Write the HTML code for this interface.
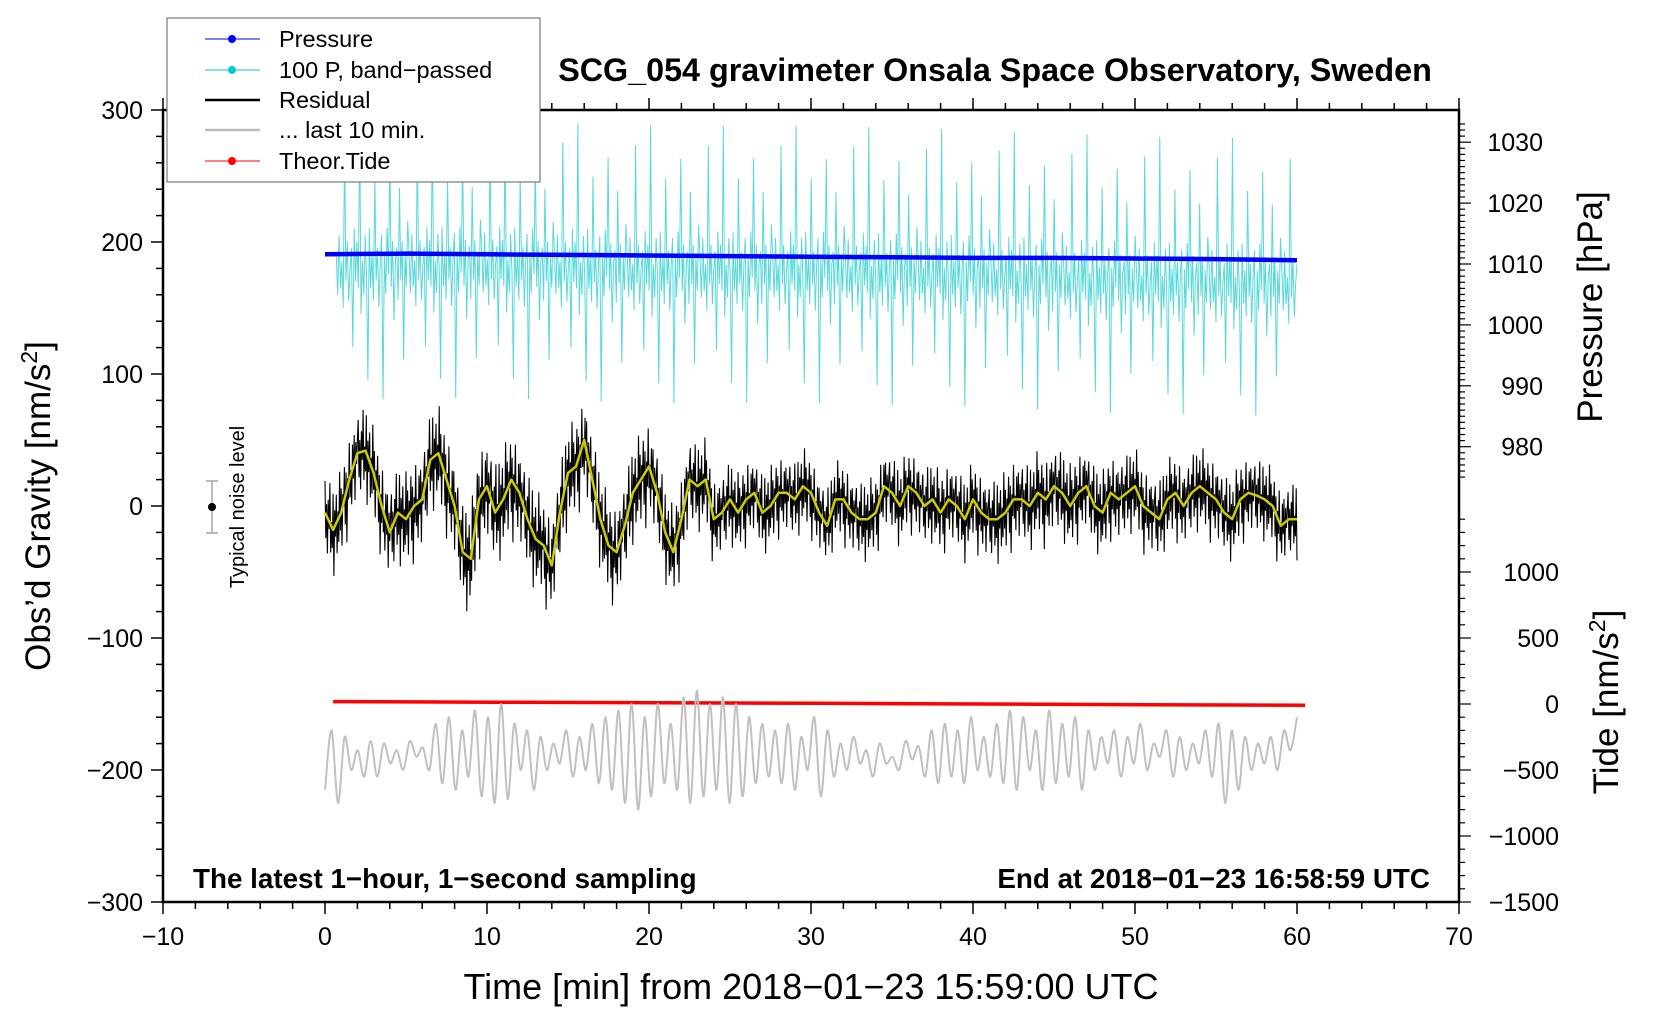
<!DOCTYPE html>
<html><head><meta charset="utf-8"><style>
html,body{margin:0;padding:0;background:#fff;}
svg{display:block;font-family:"Liberation Sans",sans-serif;}
</style></head><body>
<svg id="chart" width="1660" height="1020" viewBox="0 0 1660 1020" xmlns="http://www.w3.org/2000/svg">
<rect width="1660" height="1020" fill="#fff"/>
<g id="plot"></g>
<g id="axes"></g>
<text x="995" y="81" font-size="32.3" font-weight="bold" text-anchor="middle">SCG_054 gravimeter Onsala Space Observatory, Sweden</text>
<text x="811" y="999" font-size="36" text-anchor="middle">Time [min] from 2018−01−23 15:59:00 UTC</text>
<text transform="translate(50,506) rotate(-90)" font-size="35" text-anchor="middle">Obs’d Gravity [nm/s<tspan dy="-13" font-size="23">2</tspan><tspan dy="13">]</tspan></text>
<text transform="translate(1602,307) rotate(-90)" font-size="35" text-anchor="middle">Pressure [hPa]</text>
<text transform="translate(1618,702) rotate(-90)" font-size="35" text-anchor="middle">Tide [nm/s<tspan dy="-13" font-size="23">2</tspan><tspan dy="13">]</tspan></text>
<text x="193" y="888" font-size="27.8" font-weight="bold">The latest 1−hour, 1−second sampling</text>
<text x="1430" y="888" font-size="27.8" font-weight="bold" text-anchor="end">End at 2018−01−23 16:58:59 UTC</text>
<g>
<line x1="212" y1="481" x2="212" y2="533" stroke="#bbb" stroke-width="2"/>
<line x1="206" y1="481" x2="218" y2="481" stroke="#bbb" stroke-width="2"/>
<line x1="206" y1="533" x2="218" y2="533" stroke="#bbb" stroke-width="2"/>
<circle cx="212" cy="507" r="4" fill="#000"/>
<text transform="translate(244,507) rotate(-90)" font-size="20" text-anchor="middle">Typical noise level</text>
</g>
<g>
<rect x="167" y="18" width="373" height="164" fill="#fff" stroke="#777" stroke-width="1.2"/>
<g><line x1="205" y1="39" x2="260" y2="39" stroke="#00f"/><circle cx="232" cy="39" r="4" fill="#00f"/><text x="279" y="47" font-size="23.5">Pressure</text></g>
<g><line x1="205" y1="70" x2="260" y2="70" stroke="#0cc"/><circle cx="232" cy="70" r="4" fill="#0cc"/><text x="279" y="78" font-size="23.5">100 P, band−passed</text></g>
<g><line x1="205" y1="100" x2="260" y2="100" stroke="#000" stroke-width="2.5"/><text x="279" y="108" font-size="23.5">Residual</text></g>
<g><line x1="205" y1="130" x2="260" y2="130" stroke="#bbb" stroke-width="2.5"/><text x="279" y="138" font-size="23.5">... last 10 min.</text></g>
<g><line x1="205" y1="161" x2="260" y2="161" stroke="#f00"/><circle cx="232" cy="161" r="4" fill="#f00"/><text x="279" y="169" font-size="23.5">Theor.Tide</text></g>
</g>
</svg>
<script>
// ---- data ----
var xTicks = [-10,0,10,20,30,40,50,60,70];
var yTicks = [300,200,100,0,-100,-200,-300];
var pTicks = [1030,1020,1010,1000,990,980];
var tideTicks = [1000,500,0,-500,-1000,-1500];
var smoothResidual = [-5,-18,-5,20,40,42,25,0,-20,-5,-10,0,5,35,40,20,0,-35,-40,5,15,-5,5,20,10,-10,-25,-30,-45,-5,25,30,50,20,-10,-30,-35,-15,10,20,30,10,-20,-35,-10,20,15,20,-10,-5,5,-5,5,10,-5,0,10,10,5,15,10,-5,-15,5,5,-5,-10,-10,-5,15,10,0,15,10,0,5,-5,5,0,-10,5,-5,-10,-10,-5,5,5,0,10,5,15,10,0,10,15,0,-5,10,5,10,15,0,-5,-10,5,10,0,10,15,10,5,-5,-10,5,10,8,5,0,-15,-10,-10];
var residualDev = [0.8,-0.6,0.3,-0.9,0.5,-0.2,1,-0.7,0.1,-0.5,0.9,-1.2,0.4,-0.3,0.7,-0.8,0.2,-0.6,1.1,-0.4,0.6,-0.9,0.3,-0.1,0.8,-0.7,0.5,-1.3,0.2,-0.4,0.9,-0.5,0.1,-0.8,0.6,-0.3,0.7,-0.95,0.4,-0.2,0.35];
var noiseAmp = [30,33,36,33,33,28,27,27,28,30,28,28,26];
var cyanCenter = [180,182,178,178,175,170,168];
var cyanDev = [10,-20,25,-15,5,-30,95,-10,20,-25,0,15,-60,30,-10,20,-15,110,-35,5,-20,25,-5,-85,30,-15,10,-25,70,-10,15,-30,5,25,-100,10,-20,30,-5,85,-15,20,-40,5,15,-25,60,-10,20,-70,10,-15,35];
var pressure = [1011.6,1011.7,1011.6,1011.5,1011.4,1011.3,1011.2,1011.1,1011.0,1011.0,1010.9,1010.8,1010.6];
var tide = [18,14,10,5,0,-5,-9];
var lastTen = [-215,-170,-225,-175,-200,-185,-205,-178,-205,-180,-195,-185,-200,-178,-190,-183,-200,-165,-210,-160,-215,-170,-205,-155,-220,-160,-225,-150,-222,-165,-200,-170,-215,-175,-200,-180,-195,-170,-205,-175,-200,-165,-210,-160,-215,-155,-225,-150,-230,-160,-220,-150,-210,-165,-215,-145,-225,-140,-220,-150,-215,-145,-225,-150,-220,-160,-210,-165,-205,-170,-210,-165,-215,-175,-200,-160,-220,-170,-205,-180,-200,-175,-195,-185,-205,-180,-195,-190,-200,-178,-192,-182,-205,-170,-210,-165,-205,-170,-210,-160,-200,-175,-205,-165,-210,-155,-215,-160,-200,-170,-215,-155,-210,-165,-205,-160,-215,-170,-200,-175,-195,-170,-205,-175,-195,-165,-200,-180,-190,-170,-205,-175,-200,-180,-195,-170,-205,-165,-225,-170,-215,-175,-200,-180,-195,-175,-200,-170,-185,-160];

(function(){
var L=163,R=1459,T=110,B=902;
function X(t){return L + (t+10)*(R-L)/80;}
function Y(v){return 506 - v*1.32;}
function P(p){return 264 - (p-1010)*6.09;}
function TD(v){return 704 - v*0.132;}
var NS='http://www.w3.org/2000/svg';
var plot=document.getElementById('plot'), axes=document.getElementById('axes');
function mk(tag,attrs,parent){var e=document.createElementNS(NS,tag);for(var k in attrs)e.setAttribute(k,attrs[k]);parent.appendChild(e);return e;}
function interp(arr,t,t0,t1){var f=(t-t0)/(t1-t0)*(arr.length-1);var i=Math.max(0,Math.min(arr.length-2,Math.floor(f)));var r=f-i;return arr[i]*(1-r)+arr[i+1]*r;}
var d='',i,t,v;
for(i=0;i<=700;i++){t=0.7+i*(59.3/700);v=interp(cyanCenter,t,0,60)+cyanDev[i%cyanDev.length];d+=(i?'L':'M')+X(t).toFixed(1)+' '+Y(v).toFixed(1);}
var cy=mk('path',{d:d,fill:'none',stroke:'#22cccc','stroke-width':1,'stroke-opacity':0.75},plot);


d='';
pressure.forEach(function(p,k){d+=(k?'L':'M')+X(k*5).toFixed(1)+' '+P(p).toFixed(1);});
var pl=mk('path',{d:d,fill:'none',stroke:'#0000ff','stroke-width':4.5},plot);


d='';
for(i=0;i<=1200;i++){t=i*0.05;v=interp(smoothResidual,t,0,60)+residualDev[i%residualDev.length]*interp(noiseAmp,t,0,60);d+=(i?'L':'M')+X(t).toFixed(1)+' '+Y(v).toFixed(1);}
var rl=mk('path',{d:d,fill:'none',stroke:'#000','stroke-width':1.1},plot);


d='';
smoothResidual.forEach(function(val,k){d+=(k?'L':'M')+X(k*0.5).toFixed(1)+' '+Y(val).toFixed(1);});
var yl=mk('path',{d:d,fill:'none',stroke:'#cccc00','stroke-width':2.5,'stroke-linejoin':'round'},plot);


d='';
tide.forEach(function(val,k){d+=(k?'L':'M')+X(0.5+k*10).toFixed(1)+' '+TD(val).toFixed(1);});
var tl=mk('path',{d:d,fill:'none',stroke:'#ff0000','stroke-width':3.5},plot);


var pts=lastTen.map(function(val,k){return [X(k*60/(lastTen.length-1)),Y(val)];});
d='M'+pts[0][0].toFixed(1)+' '+pts[0][1].toFixed(1);
for(i=0;i<pts.length-1;i++){var p0=pts[Math.max(0,i-1)],p1=pts[i],p2=pts[i+1],p3=pts[Math.min(pts.length-1,i+2)];
d+='C'+(p1[0]+(p2[0]-p0[0])/6).toFixed(1)+' '+(p1[1]+(p2[1]-p0[1])/6).toFixed(1)+' '+(p2[0]-(p3[0]-p1[0])/6).toFixed(1)+' '+(p2[1]-(p3[1]-p1[1])/6).toFixed(1)+' '+p2[0].toFixed(1)+' '+p2[1].toFixed(1);}
var gl=mk('path',{d:d,fill:'none',stroke:'#c0c0c0','stroke-width':2},plot);


var fr=mk('rect',{x:L,y:T,width:R-L,height:B-T,fill:'none',stroke:'#000','stroke-width':2.5},axes);


for(t=-10;t<=70;t+=2){var big=(t%10===0);
mk('line',{x1:X(t),y1:B,x2:X(t),y2:B+(big?12:7),stroke:'#000','stroke-width':1.5},axes);
mk('line',{x1:X(t),y1:T,x2:X(t),y2:T-(big?12:7),stroke:'#000','stroke-width':1.5},axes);}
xTicks.forEach(function(tt){var e=mk('text',{x:X(tt),y:B+43,'font-size':25,'text-anchor':'middle'},axes);e.textContent=String(tt).replace('-','−');

});
for(v=-300;v<=300;v+=20){mk('line',{x1:L,y1:Y(v),x2:L-(v%100===0?12:7),y2:Y(v),stroke:'#000','stroke-width':1.5},axes);}
yTicks.forEach(function(vv){var e=mk('text',{x:L-20,y:Y(vv)+9,'font-size':25,'text-anchor':'end'},axes);e.textContent=String(vv).replace('-','−');

});
for(var p=975;p<=1033;p++){mk('line',{x1:R,y1:P(p),x2:R+(p%10===0?12:6),y2:P(p),stroke:'#000','stroke-width':1.2},axes);}
pTicks.forEach(function(pp){var e=mk('text',{x:R+84,y:P(pp)+9,'font-size':25,'text-anchor':'end'},axes);e.textContent=pp;

});
for(v=-1500;v<=1400;v+=100){mk('line',{x1:R,y1:TD(v),x2:R+(v%500===0?12:6),y2:TD(v),stroke:'#000','stroke-width':1.2},axes);}
tideTicks.forEach(function(vv){var e=mk('text',{x:R+100,y:TD(vv)+9,'font-size':25,'text-anchor':'end'},axes);e.textContent=String(vv).replace('-','−');

});
})();
</script>
</body></html>
